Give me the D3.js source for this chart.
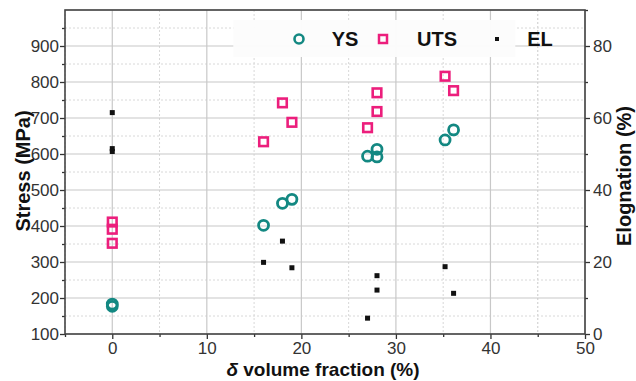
<!DOCTYPE html>
<html>
<head>
<meta charset="utf-8">
<script src="https://cdn.jsdelivr.net/npm/d3@7"></script>
<style>
  body { margin: 0; background: #fff; }
  text { font-family: "Liberation Sans", Arial, sans-serif; }
</style>
</head>
<body>
<svg id="chart"></svg>
<script>
// Yield strength (MPa) vs delta volume fraction
var ysX = [0, 0, 16, 18, 19, 27, 28, 28, 35.2, 36.1];
var ysY = [183, 177, 402, 463, 474, 594, 613, 592, 639, 667];

// Ultimate tensile strength (MPa)
var utsX = [0, 0, 0, 16, 18, 19, 27, 28, 28, 35.2, 36.1];
var utsY = [411, 391, 352, 634, 742, 688, 673, 718, 770, 816, 776];

// Elongation (%) on right axis
var elX = [0, 0, 0, 16, 18, 19, 27, 28, 28, 35.2, 36.1];
var elY = [61.5, 51.5, 50.7, 19.9, 25.8, 18.4, 4.4, 12.2, 16.2, 18.7, 11.3];

var xTicks = [0, 10, 20, 30, 40, 50];
var yTicks = [100, 200, 300, 400, 500, 600, 700, 800, 900];
var y2Ticks = [0, 20, 40, 60, 80];

var legendLabels = ["YS", "UTS", "EL"];

var width = 636, height = 381;
var margin = { top: 10, right: 51, bottom: 47, left: 65 };
var iw = width - margin.left - margin.right,
  ih = height - margin.top - margin.bottom;

var teal = "#138882", pink = "#ec1e7c";

var svg = d3.select("#chart").attr("width", width).attr("height", height);
var g = svg.append("g").attr("transform", "translate(" + margin.left + "," + margin.top + ")");

var x = d3.scaleLinear().domain([-5, 50]).range([0, iw]);
var y = d3.scaleLinear().domain([100, 1000]).range([ih, 0]);
var y2 = d3.scaleLinear().domain([0, 90]).range([ih, 0]);

// minor (dotted) grid
g.selectAll(".mgx").data(d3.range(-5, 50, 10).concat([45]))
  .enter().append("line")
  .attr("x1", d => x(d)).attr("x2", d => x(d)).attr("y1", 0).attr("y2", ih)
  .attr("stroke", "#d8d8d8").attr("stroke-dasharray", "2,2");
g.selectAll(".mgy").data(d3.range(150, 1000, 100))
  .enter().append("line")
  .attr("y1", d => y(d)).attr("y2", d => y(d)).attr("x1", 0).attr("x2", iw)
  .attr("stroke", "#d8d8d8").attr("stroke-dasharray", "2,2");

// major grid
g.selectAll(".gx").data(xTicks)
  .enter().append("line")
  .attr("x1", d => x(d)).attr("x2", d => x(d)).attr("y1", 0).attr("y2", ih)
  .attr("stroke", "#c8c8c8").attr("stroke-width", 1.2);
g.selectAll(".gy").data(yTicks.concat([1000]))
  .enter().append("line")
  .attr("y1", d => y(d)).attr("y2", d => y(d)).attr("x1", 0).attr("x2", iw)
  .attr("stroke", "#c8c8c8").attr("stroke-width", 1.2);

// axes
g.append("g").attr("transform", "translate(0," + ih + ")")
  .call(d3.axisBottom(x).tickValues(xTicks).tickSize(5).tickPadding(3));
g.append("g").attr("transform", "translate(0," + ih + ")")
  .call(d3.axisBottom(x).tickValues([-5, 5, 15, 25, 35, 45]).tickSize(3).tickFormat(""));
g.append("g").call(d3.axisLeft(y).tickValues(yTicks).tickSize(5).tickPadding(1));
g.append("g").call(d3.axisLeft(y).tickValues(d3.range(150, 1000, 100)).tickSize(3).tickFormat(""));
g.append("g").attr("transform", "translate(" + iw + ",0)")
  .call(d3.axisRight(y2).tickValues(y2Ticks).tickSize(5).tickPadding(3));
g.append("g").attr("transform", "translate(" + iw + ",0)")
  .call(d3.axisRight(y2).tickValues([10, 30, 50, 70, 90]).tickSize(3).tickFormat(""));

g.selectAll(".domain").remove();
g.selectAll(".tick line").attr("stroke", "#333").attr("stroke-width", 1.3);
g.selectAll(".tick text").attr("font-size", 17).attr("fill", "#333")
  .style("font-family", "'Liberation Sans', Arial, sans-serif");

// frame
g.append("rect").attr("width", iw).attr("height", ih)
  .attr("fill", "none").attr("stroke", "#444").attr("stroke-width", 1.6);

// legend box
var lg = g.append("g");
lg.append("rect").attr("x", x(12.8)).attr("y", 10).attr("width", 282).attr("height", 37)
  .attr("fill", "#fcfcfc").attr("fill-opacity", 0.97);

// EL points
g.selectAll(".el").data(elX)
  .enter().append("rect")
  .attr("x", (d, i) => x(d) - 2.5).attr("y", (d, i) => y2(elY[i]) - 2.5)
  .attr("width", 5).attr("height", 5).attr("fill", "#111");

// UTS points
g.selectAll(".uts").data(utsX)
  .enter().append("rect")
  .attr("x", (d, i) => x(d) - 4.3).attr("y", (d, i) => y(utsY[i]) - 4.3)
  .attr("width", 8.6).attr("height", 8.6)
  .attr("fill", "none").attr("stroke", pink).attr("stroke-width", 2.6);

// YS points
g.selectAll(".ys").data(ysX)
  .enter().append("circle")
  .attr("cx", d => x(d)).attr("cy", (d, i) => y(ysY[i])).attr("r", 5)
  .attr("fill", "none").attr("stroke", teal).attr("stroke-width", 2.8);

// legend entries
var lgX = [299, 383, 497].map(v => v - margin.left);
var lgTx = [345, 437, 540].map(v => v - margin.left);
var lgY = 39 - margin.top;
lg.append("circle").attr("cx", lgX[0]).attr("cy", lgY).attr("r", 4.5)
  .attr("fill", "none").attr("stroke", teal).attr("stroke-width", 2.6);
lg.append("rect").attr("x", lgX[1] - 4).attr("y", lgY - 4).attr("width", 8).attr("height", 8)
  .attr("fill", "none").attr("stroke", pink).attr("stroke-width", 2.5);
lg.append("rect").attr("x", lgX[2] - 2).attr("y", lgY - 2).attr("width", 4).attr("height", 4)
  .attr("fill", "#111");
lg.selectAll(".lt").data(legendLabels)
  .enter().append("text")
  .attr("x", (d, i) => lgTx[i]).attr("y", lgY).attr("dy", "0.36em")
  .attr("text-anchor", "middle").attr("font-size", 20).attr("font-weight", "bold")
  .attr("fill", "#111").text(d => d);

// axis titles
svg.append("text")
  .attr("transform", "translate(30,171) rotate(-90)")
  .attr("text-anchor", "middle").attr("font-size", 20).attr("font-weight", "bold")
  .attr("fill", "#111").text("Stress (MPa)");
svg.append("text")
  .attr("transform", "translate(631,176) rotate(-90)")
  .attr("text-anchor", "middle").attr("font-size", 20).attr("font-weight", "bold")
  .attr("fill", "#111").text("Elognation (%)");
var xt = svg.append("text")
  .attr("x", margin.left + iw / 2 - 2).attr("y", 376)
  .attr("text-anchor", "middle").attr("font-size", 19).attr("font-weight", "bold")
  .attr("fill", "#111");
xt.append("tspan").attr("font-style", "italic").text("δ");
xt.append("tspan").text(" volume fraction (%)");
</script>
</body>
</html>
